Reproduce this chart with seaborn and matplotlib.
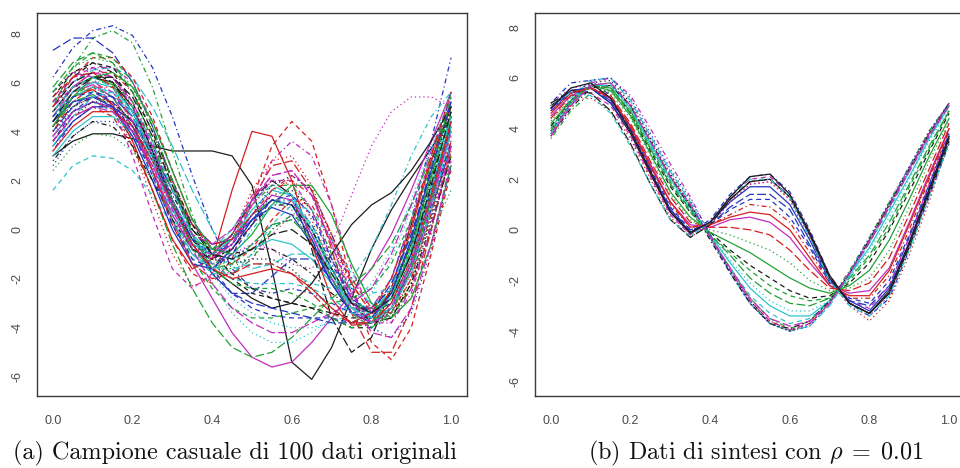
import matplotlib
matplotlib.use("Agg")
import matplotlib.pyplot as plt
import pandas as pd
import seaborn as sns

# ---------------- data ----------------
x_grid = [0.00, 0.05, 0.10, 0.15, 0.20, 0.25, 0.30, 0.35, 0.40, 0.45, 0.50,
          0.55, 0.60, 0.65, 0.70, 0.75, 0.80, 0.85, 0.90, 0.95, 1.00]

curves_a = [
    [3.0, 3.6, 3.9, 3.9, 3.7, 3.4, 3.2, 3.2, 3.2, 3.0, 1.8, -1.6, -5.4, -6.1, -4.8, -2.8, -0.8, 0.8, 2.1, 3.3, 4.6],
    [3.6, 4.6, 5.0, 4.6, 3.4, 1.6, -0.4, -1.8, -2.2, -1.2, 1.2, 3.4, 4.4, 3.6, 1.0, -2.2, -4.6, -5.3, -4.0, -1.0, 2.4],
    [2.4, 3.4, 3.9, 3.8, 3.2, 2.0, 0.6, -0.6, -1.0, -0.4, 0.6, 1.2, 0.8, -0.6, -2.2, -3.4, -4.0, -3.6, -2.0, -0.2, 1.6],
    [6.2, 7.4, 8.1, 8.3, 7.9, 6.6, 4.6, 2.2, 0.0, -1.6, -2.4, -2.6, -2.4, -2.6, -3.0, -3.4, -3.2, -2.0, 0.4, 3.6, 7.0],
    [5.2, 6.0, 6.5, 6.6, 6.2, 5.0, 3.4, 1.6, 0.0, -1.2, -1.6, -1.4, -1.0, -1.0, -1.6, -2.4, -3.0, -2.8, -1.4, 1.2, 4.4],
    [4.6, 5.6, 5.9, 5.4, 4.2, 2.4, 0.4, -1.4, -2.8, -4.2, -5.2, -5.6, -5.4, -4.6, -3.6, -2.6, -1.6, -0.2, 1.6, 3.6, 5.6],
    [5.4, 6.4, 6.8, 6.4, 5.2, 3.2, 1.2, -0.4, -1.4, -2.0, -2.6, -2.8, -3.0, -3.2, -3.6, -4.0, -4.0, -3.2, -1.4, 1.2, 4.2],
    [4.6, 5.6, 5.8, 5.0, 3.4, 1.2, -1.0, -2.3, -2.0, -0.6, 1.0, 2.0, 1.8, 0.4, -1.6, -3.2, -3.8, -3.2, -1.2, 1.4, 4.0],
    [5.0, 6.6, 7.8, 8.1, 7.6, 5.8, 3.2, 0.6, -1.2, -1.8, -1.2, 0.0, 0.6, 0.0, -1.6, -3.0, -3.4, -2.6, -0.6, 2.0, 4.6],
    [7.3, 7.8, 7.8, 7.2, 6.0, 4.2, 2.0, -0.2, -1.8, -2.6, -2.6, -1.9, -1.2, -1.2, -2.0, -3.0, -3.4, -2.6, -0.4, 2.6, 5.6],
    [3.0, 4.0, 4.6, 4.6, 4.0, 2.8, 1.2, -0.2, -1.0, -1.2, -0.8, -0.4, -0.6, -1.2, -2.2, -3.0, -3.2, -2.6, -1.0, 1.4, 4.2],
    [5.6, 6.4, 6.2, 5.0, 3.0, 0.6, -1.6, -2.4, -1.8, -0.2, 1.4, 2.0, 1.4, -0.2, -2.0, -3.2, -3.2, -2.0, 0.4, 3.0, 5.2],
    [5.6, 6.4, 6.6, 6.2, 5.0, 3.2, 1.0, -0.6, -1.2, -0.8, 0.4, 1.4, 1.6, 0.8, -1.0, -2.8, -3.8, -3.6, -2.2, 0.4, 3.6],
    [4.8, 5.8, 6.4, 6.4, 5.6, 4.0, 2.0, 0.2, -0.8, -0.8, 0.2, 1.6, 2.2, 1.6, -0.2, -2.2, -3.4, -3.2, -1.8, 0.6, 3.6],
    [4.2, 5.2, 5.5, 5.0, 3.6, 1.6, -0.6, -2.4, -3.8, -4.8, -5.2, -5.0, -4.4, -3.6, -2.8, -2.2, -1.6, -0.6, 1.0, 3.0, 5.2],
    [3.4, 4.4, 5.0, 5.0, 4.4, 3.2, 1.6, 0.2, -0.6, -0.4, 0.4, 0.9, 0.6, -0.6, -2.2, -3.4, -3.8, -3.2, -1.6, 0.8, 3.4],
    [1.6, 2.6, 3.0, 2.9, 2.4, 1.4, 0.2, -1.0, -1.8, -1.8, -1.0, 0.2, 1.0, 0.8, -0.4, -1.8, -2.6, -2.4, -1.0, 1.2, 3.4],
    [4.4, 5.4, 5.8, 5.4, 4.2, 2.4, 0.4, -1.0, -1.4, -1.0, -0.6, -0.8, -1.4, -1.6, -0.6, 1.4, 3.4, 4.8, 5.4, 5.4, 5.0],
    [4.2, 5.0, 5.4, 5.2, 4.4, 3.0, 1.4, 0.0, -0.8, -1.0, -0.8, -0.8, -1.2, -1.8, -2.6, -3.2, -3.2, -2.4, -0.6, 2.0, 4.8],
    [3.8, 4.8, 5.2, 4.9, 4.0, 2.4, 0.6, -0.8, -1.2, -0.4, 1.2, 2.6, 2.8, 1.6, -0.8, -3.4, -5.0, -5.0, -3.2, 0.0, 3.4],
    [4.8, 5.8, 6.2, 5.9, 4.8, 3.0, 1.0, -0.4, -0.8, -0.4, 0.6, 1.2, 1.0, 0.0, -1.6, -3.0, -3.4, -2.6, -0.6, 2.2, 4.6],
    [3.6, 4.8, 5.4, 5.4, 4.8, 3.4, 1.6, -0.2, -1.6, -2.6, -3.2, -3.5, -3.6, -3.6, -3.6, -3.8, -3.8, -3.0, -1.2, 1.4, 4.2],
    [4.0, 5.2, 5.8, 5.6, 4.6, 3.0, 1.0, -0.8, -2.2, -3.4, -4.2, -4.6, -4.6, -4.2, -3.6, -3.0, -2.2, -0.8, 1.2, 3.4, 5.6],
    [5.0, 6.0, 6.6, 6.6, 6.0, 4.4, 2.4, 0.4, -0.8, -0.6, 1.0, 2.8, 3.6, 3.0, 1.0, -1.6, -3.4, -3.8, -2.6, 0.0, 3.2],
    [5.0, 6.0, 6.4, 6.0, 4.8, 3.0, 1.0, -0.6, -1.0, -0.2, 1.2, 2.0, 1.4, -0.8, -3.6, -5.0, -4.4, -2.4, 0.2, 2.8, 5.0],
    [4.2, 5.4, 5.7, 5.1, 3.6, 1.6, -0.4, -1.6, -1.2, 1.6, 4.0, 3.8, 2.0, -0.6, -2.8, -3.9, -3.8, -2.4, 0.0, 2.8, 5.0],
    [4.4, 5.4, 5.8, 5.4, 4.2, 2.4, 0.4, -1.2, -2.4, -3.2, -3.6, -3.6, -3.4, -3.2, -3.0, -2.8, -2.4, -1.4, 0.4, 2.6, 4.8],
    [2.6, 3.8, 4.4, 4.4, 3.8, 2.6, 1.0, -0.4, -1.2, -1.2, -0.6, 0.2, 0.4, -0.2, -1.6, -3.0, -3.6, -3.2, -1.8, 0.4, 3.0],
    [3.8, 4.8, 5.2, 4.8, 3.8, 2.2, 0.4, -1.0, -1.6, -1.6, -1.4, -1.4, -1.8, -2.2, -2.4, -2.0, -0.8, 1.0, 3.0, 4.6, 5.6],
    [4.6, 5.8, 6.4, 6.2, 5.2, 3.4, 1.2, -0.8, -2.2, -3.2, -3.8, -4.2, -4.2, -3.8, -3.4, -3.0, -2.4, -1.0, 1.0, 3.2, 5.4],
    [4.8, 5.8, 6.2, 6.0, 5.0, 3.2, 1.2, -0.6, -1.6, -2.2, -2.8, -3.2, -3.0, -2.2, -1.0, 0.2, 1.0, 1.5, 2.4, 3.6, 5.0],
    [5.0, 6.2, 7.0, 7.0, 6.2, 4.6, 2.4, 0.4, -1.0, -1.4, -0.8, 0.4, 1.2, 1.0, -0.4, -2.2, -3.4, -3.4, -2.0, 0.8, 4.4],
    [5.6, 6.6, 7.0, 6.8, 5.8, 4.0, 1.8, -0.2, -1.4, -1.6, -1.0, 0.0, 0.6, 0.2, -1.2, -2.8, -3.8, -3.6, -2.2, 0.6, 4.0],
    [3.2, 4.4, 5.0, 5.0, 4.4, 3.0, 1.2, -0.4, -1.0, -0.6, 0.4, 1.2, 1.2, 0.2, -1.4, -2.8, -3.4, -3.0, -1.4, 1.0, 3.6],
    [4.4, 5.4, 5.8, 5.6, 4.6, 2.8, 0.8, -0.6, -0.8, 0.0, 1.2, 1.8, 1.4, -0.2, -2.0, -3.2, -3.4, -2.4, -0.2, 2.4, 4.6],
    [3.8, 4.8, 5.2, 5.0, 4.0, 2.4, 0.6, -0.8, -1.2, -0.6, 0.6, 1.4, 1.2, -0.2, -2.0, -3.4, -3.8, -3.2, -1.4, 1.2, 4.0],
    [5.2, 6.2, 6.8, 6.6, 5.6, 4.0, 2.0, 0.2, -1.0, -1.8, -2.4, -2.8, -3.0, -3.2, -3.4, -3.6, -3.6, -2.8, -1.0, 1.6, 4.4],
    [4.0, 5.0, 5.4, 5.2, 4.2, 2.6, 0.8, -0.6, -1.0, -0.2, 1.6, 2.8, 3.0, 1.8, -0.4, -2.6, -3.6, -3.4, -2.0, 0.6, 3.8],
    [4.4, 5.4, 6.0, 6.0, 5.2, 3.6, 1.6, 0.0, -0.8, -0.2, 1.0, 1.8, 1.8, 0.8, -1.0, -2.6, -3.6, -3.6, -2.4, 0.0, 3.0],
    [4.0, 5.0, 5.6, 5.4, 4.6, 3.0, 1.2, -0.6, -1.8, -2.6, -3.0, -3.2, -3.4, -3.6, -3.8, -3.8, -3.4, -2.2, -0.2, 2.4, 5.2],
    [4.6, 5.6, 6.0, 5.8, 4.8, 3.0, 0.9, -0.6, -1.0, -0.4, 0.8, 1.6, 1.4, 0.0, -1.8, -3.2, -3.6, -2.8, -0.8, 1.8, 4.4],
    [5.2, 6.2, 6.6, 6.2, 5.0, 3.0, 0.8, -0.8, -1.2, -0.4, 1.0, 2.0, 2.0, 0.8, -1.2, -3.0, -3.8, -3.4, -1.6, 1.0, 4.0],
    [3.6, 4.6, 5.2, 5.2, 4.4, 3.0, 1.2, -0.4, -1.2, -1.4, -1.2, -1.2, -1.6, -2.4, -3.2, -3.8, -3.6, -2.6, -0.6, 2.2, 5.0],
    [4.0, 5.2, 5.8, 5.8, 5.0, 3.6, 1.8, 0.2, -0.6, -0.4, 0.6, 1.6, 2.0, 1.4, -0.2, -2.0, -3.2, -3.4, -2.4, 0.0, 3.2],
    [5.8, 6.8, 7.2, 6.8, 5.6, 3.6, 1.2, -0.8, -1.6, -1.4, -0.6, 0.2, 0.4, -0.4, -2.0, -3.4, -4.0, -3.4, -1.6, 1.2, 4.6],
    [4.4, 5.2, 5.4, 5.0, 3.8, 2.0, 0.0, -1.4, -1.6, -0.8, 0.4, 1.2, 1.0, -0.4, -2.2, -3.4, -3.6, -2.6, -0.4, 2.4, 5.2],
    [3.4, 4.6, 5.4, 5.6, 5.0, 3.6, 1.6, -0.2, -1.4, -2.0, -2.2, -2.2, -2.2, -2.4, -2.8, -3.4, -3.6, -3.2, -1.8, 0.8, 4.0],
    [4.8, 5.8, 6.4, 6.2, 5.2, 3.4, 1.2, -0.6, -1.6, -1.8, -1.2, -0.2, 0.6, 0.6, -0.4, -2.0, -3.2, -3.6, -2.8, -0.6, 2.6],
    [2.8, 3.8, 4.4, 4.2, 3.4, 2.0, 0.4, -0.8, -1.2, -0.8, 0.2, 1.0, 1.0, 0.0, -1.6, -3.0, -3.8, -3.6, -2.2, 0.2, 3.0],
    [5.4, 6.2, 6.4, 5.8, 4.4, 2.4, 0.2, -1.4, -2.0, -1.8, -1.4, -1.4, -1.8, -2.6, -3.4, -3.8, -3.4, -2.0, 0.2, 3.0, 5.6],
    [4.2, 5.4, 6.2, 6.4, 5.8, 4.4, 2.4, 0.4, -0.8, -1.0, -0.2, 1.0, 1.8, 1.8, 0.6, -1.4, -3.0, -3.6, -2.8, -0.6, 2.6],
    [4.6, 5.4, 5.6, 5.2, 4.0, 2.2, 0.2, -1.2, -1.6, -1.0, 0.2, 1.2, 1.4, 0.6, -1.2, -2.8, -3.4, -2.8, -1.0, 1.6, 4.4],
    [3.8, 5.0, 5.6, 5.6, 4.8, 3.2, 1.2, -0.6, -1.8, -2.8, -3.4, -3.8, -4.0, -4.0, -3.8, -3.4, -2.6, -1.2, 0.8, 3.2, 5.6],
    [5.0, 5.8, 6.0, 5.6, 4.4, 2.6, 0.6, -0.8, -1.0, -0.2, 1.2, 2.2, 2.4, 1.4, -0.6, -2.6, -3.8, -3.8, -2.4, 0.2, 3.4],
    [4.4, 5.6, 6.2, 6.2, 5.4, 3.8, 1.8, 0.0, -1.0, -1.2, -0.8, -0.2, 0.0, -0.6, -1.8, -3.0, -3.4, -2.8, -1.0, 1.8, 4.8],
    [3.2, 4.2, 4.8, 4.8, 4.2, 2.8, 1.0, -0.6, -1.6, -2.0, -1.8, -1.6, -1.8, -2.4, -3.2, -3.8, -3.8, -3.0, -1.2, 1.4, 4.4],
    [5.6, 6.6, 7.2, 7.0, 6.0, 4.2, 2.0, -0.2, -1.6, -2.2, -2.4, -2.4, -2.6, -3.0, -3.6, -4.0, -3.8, -2.8, -0.8, 2.2, 5.4],
    [4.0, 4.8, 5.2, 5.0, 4.2, 2.8, 1.0, -0.4, -1.0, -0.6, 0.6, 1.8, 2.2, 1.6, -0.2, -2.4, -4.0, -4.4, -3.4, -0.8, 2.6],
    [4.8, 5.8, 6.2, 5.8, 4.6, 2.8, 0.6, -1.0, -1.6, -1.2, 0.0, 1.0, 1.2, 0.2, -1.6, -3.2, -3.8, -3.2, -1.2, 1.6, 4.6],
    [3.6, 4.6, 5.0, 4.8, 4.0, 2.6, 1.0, -0.2, -0.6, 0.0, 1.2, 2.2, 2.4, 1.4, -0.6, -2.8, -4.2, -4.4, -3.2, -0.6, 2.8],
]

curves_b = [
    [4.9, 5.5, 5.6, 5.0, 3.8, 2.2, 0.7, -0.15, 0.3, 1.2, 1.9, 2.0, 1.3, -0.2, -1.9, -2.9, -3.3, -2.5, -0.6, 1.5, 3.6],
    [3.7, 4.9, 5.7, 5.8, 4.9, 3.5, 2.1, 1.0, -0.3, -1.6, -2.8, -3.6, -3.95, -3.7, -2.9, -1.7, -0.4, 1.0, 2.4, 3.8, 5.0],
    [4.3, 5.2, 5.7, 5.4, 4.4, 2.9, 1.4, 0.4, 0.0, -0.2, -0.5, -0.8, -1.3, -2.0, -2.4, -2.3, -1.9, -0.8, 0.9, 2.7, 4.3],
    [5.0, 5.8, 5.9, 5.3, 4.0, 2.4, 0.8, -0.1, 0.4, 1.4, 2.1, 2.2, 1.5, 0.0, -1.8, -2.9, -3.4, -2.7, -0.8, 1.3, 3.4],
    [4.0, 5.2, 5.9, 6.0, 5.1, 3.7, 2.3, 1.1, -0.3, -1.7, -2.9, -3.7, -4.0, -3.8, -3.0, -1.8, -0.5, 0.9, 2.3, 3.7, 4.9],
    [4.5, 5.3, 5.6, 5.2, 4.1, 2.6, 1.1, 0.2, 0.1, 0.4, 0.5, 0.3, -0.3, -1.3, -2.2, -2.5, -2.4, -1.5, 0.3, 2.2, 4.0],
    [4.1, 5.1, 5.7, 5.6, 4.6, 3.1, 1.7, 0.7, -0.1, -0.8, -1.4, -1.9, -2.4, -2.7, -2.6, -2.1, -1.3, 0.0, 1.5, 3.1, 4.6],
    [4.4, 5.1, 5.2, 4.7, 3.6, 2.0, 0.5, -0.3, 0.2, 1.1, 1.8, 1.9, 1.2, -0.3, -2.0, -3.0, -3.6, -2.8, -1.0, 1.1, 3.5],
    [3.6, 4.7, 5.4, 5.5, 4.7, 3.3, 1.9, 0.8, -0.3, -1.5, -2.7, -3.5, -3.9, -3.6, -2.8, -1.6, -0.3, 1.1, 2.5, 3.9, 5.0],
    [4.8, 5.4, 5.6, 5.1, 3.9, 2.3, 0.8, 0.0, 0.2, 0.9, 1.4, 1.4, 0.8, -0.6, -2.0, -2.8, -3.0, -2.2, -0.3, 1.7, 3.7],
    [3.8, 5.0, 5.7, 5.7, 4.8, 3.4, 2.0, 0.9, -0.2, -1.3, -2.3, -3.0, -3.4, -3.4, -2.8, -1.8, -0.7, 0.7, 2.1, 3.6, 4.9],
    [4.7, 5.3, 5.4, 4.9, 3.7, 2.1, 0.6, -0.2, 0.3, 1.3, 2.0, 2.1, 1.4, -0.1, -1.8, -2.8, -3.1, -2.2, -0.3, 1.8, 3.9],
    [3.9, 5.0, 5.8, 5.9, 5.0, 3.6, 2.2, 1.0, -0.3, -1.6, -2.8, -3.7, -4.0, -3.7, -2.9, -1.7, -0.4, 1.0, 2.4, 3.8, 4.9],
    [4.7, 5.4, 5.6, 5.2, 4.0, 2.5, 1.0, 0.1, 0.2, 0.6, 1.0, 0.9, 0.3, -0.9, -2.1, -2.7, -2.7, -1.8, 0.0, 2.0, 3.9],
    [3.9, 5.0, 5.7, 5.6, 4.7, 3.2, 1.8, 0.8, -0.2, -1.0, -1.9, -2.5, -2.9, -3.0, -2.7, -1.9, -1.0, 0.3, 1.8, 3.3, 4.7],
    [4.8, 5.5, 5.6, 5.0, 3.9, 2.3, 0.8, -0.1, 0.3, 1.1, 1.7, 1.7, 1.0, -0.4, -2.0, -2.8, -3.2, -2.3, -0.5, 1.6, 3.7],
    [3.8, 4.9, 5.7, 5.8, 4.8, 3.4, 2.0, 0.9, -0.3, -1.5, -2.6, -3.3, -3.7, -3.5, -2.9, -1.8, -0.5, 0.8, 2.3, 3.7, 4.9],
    [5.0, 5.6, 5.7, 5.1, 3.9, 2.3, 0.7, -0.2, 0.2, 1.1, 1.8, 1.9, 1.2, -0.3, -2.0, -3.0, -3.4, -2.6, -0.7, 1.4, 3.5],
    [3.7, 4.8, 5.6, 5.7, 4.9, 3.5, 2.1, 0.9, -0.4, -1.7, -2.9, -3.7, -3.9, -3.6, -2.8, -1.7, -0.4, 1.0, 2.4, 3.8, 5.0],
    [4.4, 5.3, 5.6, 5.3, 4.2, 2.7, 1.3, 0.3, 0.1, 0.1, 0.0, -0.2, -0.8, -1.6, -2.3, -2.4, -2.1, -1.1, 0.6, 2.4, 4.2],
    [4.2, 5.1, 5.7, 5.5, 4.5, 3.0, 1.5, 0.5, -0.1, -0.5, -0.9, -1.4, -1.9, -2.3, -2.5, -2.2, -1.6, -0.4, 1.2, 2.9, 4.4],
    [4.7, 5.4, 5.6, 5.1, 4.0, 2.4, 0.9, 0.0, 0.2, 0.8, 1.2, 1.2, 0.5, -0.7, -2.1, -2.7, -2.9, -2.0, -0.2, 1.8, 3.8],
    [3.9, 5.0, 5.7, 5.7, 4.7, 3.3, 1.9, 0.8, -0.2, -1.2, -2.1, -2.8, -3.2, -3.2, -2.8, -1.9, -0.8, 0.5, 2.0, 3.5, 4.8],
    [3.8, 5.0, 5.8, 6.0, 5.3, 4.0, 2.6, 1.3, -0.2, -1.6, -2.8, -3.6, -3.95, -3.7, -2.9, -1.7, -0.4, 1.0, 2.4, 3.8, 5.0],
    [5.0, 5.5, 5.4, 4.7, 3.4, 1.8, 0.4, -0.3, 0.2, 1.2, 1.9, 2.0, 1.3, -0.2, -1.9, -2.9, -3.3, -2.5, -0.7, 1.4, 3.5],
    [4.6, 5.4, 5.6, 5.2, 4.1, 2.5, 1.1, 0.1, 0.2, 0.5, 0.7, 0.6, 0.0, -1.1, -2.2, -2.6, -2.6, -1.6, 0.2, 2.1, 4.0],
    [4.0, 5.1, 5.7, 5.6, 4.6, 3.2, 1.8, 0.7, -0.2, -0.9, -1.6, -2.2, -2.6, -2.8, -2.7, -2.0, -1.1, 0.1, 1.7, 3.2, 4.7],
    [3.9, 5.1, 5.9, 6.0, 5.2, 3.8, 2.4, 1.2, -0.2, -1.7, -2.9, -3.7, -4.0, -3.8, -2.9, -1.7, -0.3, 1.1, 2.5, 3.9, 5.0],
    [4.9, 5.4, 5.3, 4.6, 3.3, 1.8, 0.4, -0.25, 0.3, 1.3, 2.0, 2.0, 1.3, -0.3, -2.0, -3.0, -3.4, -2.6, -0.8, 1.3, 3.4],
    [3.7, 4.9, 5.7, 5.8, 4.9, 3.5, 2.1, 1.0, -0.3, -1.5, -2.7, -3.5, -3.8, -3.6, -2.9, -1.7, -0.5, 0.9, 2.3, 3.7, 4.9],
    [4.8, 5.6, 5.8, 5.2, 3.9, 2.3, 0.7, -0.1, 0.3, 1.3, 2.1, 2.2, 1.4, -0.1, -1.8, -2.9, -3.3, -2.4, -0.5, 1.6, 3.7],
]

x_ticks = [0.0, 0.2, 0.4, 0.6, 0.8, 1.0]
x_tick_labels = ["0.0", "0.2", "0.4", "0.6", "0.8", "1.0"]
y_ticks = [-6, -4, -2, 0, 2, 4, 6, 8]
y_tick_labels = ["-6", "-4", "-2", "0", "2", "4", "6", "8"]
caption_a = "(a) Campione casuale di 100 dati originali"
caption_b = r"(b) Dati di sintesi con $\rho\;=\;0.01$"

# R matplot default colours (col = 1:6) and line types (lty = 1:5)
r_colors = ["#1c1c1c", "#d42020", "#22a236", "#2436c0", "#2ec4cc", "#c22cbe"]
r_dashes = ["", (4, 3), (1, 2.4), (1, 2.4, 4, 2.4), (7, 2.6)]

# ---------------- plotting ----------------
sns.set_theme(style="white")
plt.rcParams["font.family"] = ["Liberation Sans", "DejaVu Sans"]
plt.rcParams["mathtext.fontset"] = "cm"

fig = plt.figure(figsize=(9.6, 4.68), dpi=100)
ax_a = fig.add_axes([37 / 960, 1 - 396 / 468, 430 / 960, 383 / 468])
ax_b = fig.add_axes([535 / 960, 1 - 396 / 468, 430 / 960, 383 / 468])


def long_frame(curves):
    rows = []
    for i, ys in enumerate(curves):
        for xv, yv in zip(x_grid, ys):
            rows.append({"x": xv, "y": yv, "curve": f"c{i:02d}"})
    return pd.DataFrame(rows)


def draw(ax, curves, ylim):
    df = long_frame(curves)
    names = sorted(df["curve"].unique())
    pal = {n: r_colors[i % 6] for i, n in enumerate(names)}
    dsh = {n: r_dashes[i % 5] for i, n in enumerate(names)}
    sns.lineplot(data=df, x="x", y="y", hue="curve", style="curve",
                 palette=pal, dashes=dsh, estimator=None, sort=False,
                 legend=False, linewidth=0.9, ax=ax)
    ax.set_xlim(-0.04, 1.04)
    ax.set_ylim(*ylim)
    ax.set_xticks(x_ticks)
    ax.set_xticklabels(x_tick_labels)
    ax.set_yticks(y_ticks)
    ax.set_yticklabels(y_tick_labels, rotation=90, va="center")
    ax.set_xlabel("")
    ax.set_ylabel("")
    for s in ax.spines.values():
        s.set_visible(True)
        s.set_color("#3a3a3a")
        s.set_linewidth(1.0)
    ax.tick_params(axis="both", direction="out", length=6.5, width=0.8,
                   color="#3a3a3a", labelcolor="#4a4a4a", labelsize=9)
    ax.tick_params(axis="x", pad=7)
    ax.tick_params(axis="y", pad=3)


draw(ax_a, curves_a, (-6.78, 8.82))
draw(ax_b, curves_b, (-6.56, 8.56))

fig.text(13 / 960, 1 - 459 / 468, caption_a, family="cmr10", fontsize=17.4,
         ha="left", va="baseline", color="#111111")
fig.text(588 / 960, 1 - 459 / 468, caption_b, family="cmr10", fontsize=17.4,
         ha="left", va="baseline", color="#111111")

fig.savefig("out.png", dpi=100)
